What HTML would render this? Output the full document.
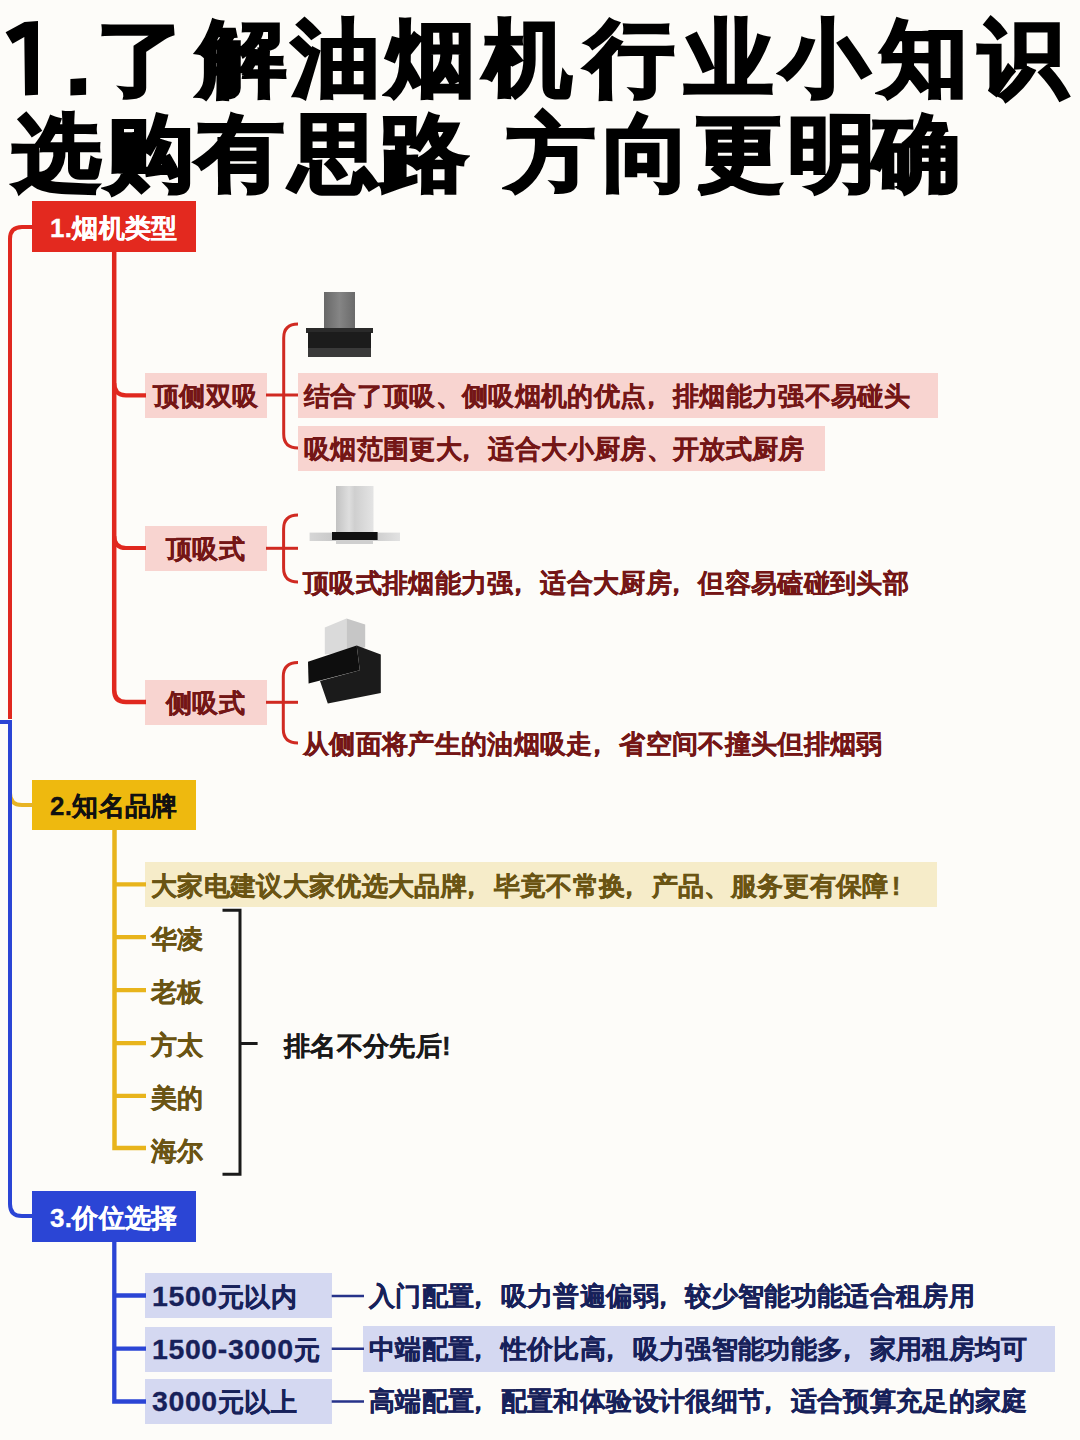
<!DOCTYPE html>
<html><head><meta charset="utf-8">
<style>
html,body{margin:0;padding:0;}
body{width:1080px;height:1440px;overflow:hidden;background:#fdfcf9;position:relative;font-family:"Liberation Sans",sans-serif;}
.t{position:absolute;white-space:nowrap;font-weight:700;}
.g{position:absolute;font-size:83px;line-height:100px;font-weight:700;color:#000;text-align:center;-webkit-text-stroke:3.2px #000;transform:scaleX(1.06);}
.box{position:absolute;}
.s26{font-size:26px;line-height:40px;letter-spacing:0.35px;-webkit-text-stroke:0.3px currentColor;}
svg{position:absolute;left:0;top:0;}
.cm{font-style:normal;position:relative;left:-9px;}
.ex{font-style:normal;margin-left:3px;}
.dg{font-size:28.5px;letter-spacing:0.6px;}
</style></head>
<body>
<!-- title line 1 -->
<div class="g" style="left:98px;top:10px;width:86px;">了</div>
<div class="g" style="left:197px;top:9px;width:90px;">解</div>
<div class="g" style="left:292px;top:9px;width:88px;">油</div>
<div class="g" style="left:387px;top:9px;width:88px;">烟</div>
<div class="g" style="left:480px;top:9px;width:95px;">机</div>
<div class="g" style="left:585px;top:9px;width:90px;">行</div>
<div class="g" style="left:685px;top:9px;width:88px;">业</div>
<div class="g" style="left:783px;top:9px;width:80px;">小</div>
<div class="g" style="left:878px;top:9px;width:92px;">知</div>
<div class="g" style="left:978px;top:9px;width:90px;">识</div>
<!-- title line 2 -->
<div class="g" style="left:14px;top:104px;width:86px;">选</div>
<div class="g" style="left:107px;top:104px;width:85px;">购</div>
<div class="g" style="left:197px;top:104px;width:85px;">有</div>
<div class="g" style="left:292px;top:104px;width:80px;">思</div>
<div class="g" style="left:380px;top:104px;width:87px;">路</div>
<div class="g" style="left:507px;top:104px;width:88px;">方</div>
<div class="g" style="left:605px;top:104px;width:80px;">向</div>
<div class="g" style="left:695px;top:104px;width:88px;">更</div>
<div class="g" style="left:790px;top:104px;width:80px;">明</div>
<div class="g" style="left:873px;top:104px;width:86px;">确</div>

<!-- boxes -->
<div class="box" style="left:32px;top:201px;width:164px;height:51px;background:#e3291f;"></div>
<div class="box" style="left:145px;top:372.5px;width:121.5px;height:45px;background:#f8d4d0;"></div>
<div class="box" style="left:298px;top:373px;width:640px;height:44.5px;background:#f8d4d0;"></div>
<div class="box" style="left:298px;top:426px;width:527px;height:44.5px;background:#f8d4d0;"></div>
<div class="box" style="left:145px;top:526px;width:121.5px;height:45px;background:#f8d4d0;"></div>
<div class="box" style="left:145px;top:680px;width:121.5px;height:44.5px;background:#f8d4d0;"></div>
<div class="box" style="left:32px;top:780px;width:164px;height:50px;background:#eeb90f;"></div>
<div class="box" style="left:145px;top:862px;width:791.5px;height:45px;background:#f6ecc9;"></div>
<div class="box" style="left:32px;top:1191px;width:164px;height:51px;background:#2b45d5;"></div>
<div class="box" style="left:144.6px;top:1273.3px;width:187px;height:45px;background:#d4d8f1;"></div>
<div class="box" style="left:144.6px;top:1326.5px;width:187px;height:45px;background:#d4d8f1;"></div>
<div class="box" style="left:144.6px;top:1379px;width:187px;height:45px;background:#d4d8f1;"></div>
<div class="box" style="left:363px;top:1326px;width:692px;height:46px;background:#d4d8f1;"></div>

<svg width="1080" height="1440" viewBox="0 0 1080 1440">
  <g fill="none" stroke-linecap="butt">
    <!-- red -->
    <path d="M10,719 V239 Q10,227 22,227 H33" stroke="#e0281f" stroke-width="4"/>
    <path d="M114.2,252 V690 Q114.2,702 126,702 H146" stroke="#e0281f" stroke-width="4.5"/>
    <path d="M114.2,383 Q114.2,395.3 126,395.3 H146" stroke="#e0281f" stroke-width="4.2"/>
    <path d="M114.2,536 Q114.2,548 126,548 H146" stroke="#e0281f" stroke-width="4.2"/>
    <path d="M298,324 Q283.7,324 283.7,338 V434 Q283.7,448 298,448" stroke="#d02a22" stroke-width="3"/>
    <path d="M266,395 H298" stroke="#d02a22" stroke-width="3"/>
    <path d="M298,515 Q283.6,515 283.6,529 V568 Q283.6,582 298,582" stroke="#d02a22" stroke-width="3"/>
    <path d="M266,548.3 H298" stroke="#d02a22" stroke-width="3"/>
    <path d="M298,662.6 Q283.3,662.6 283.3,676.6 V729 Q283.3,743 298,743" stroke="#d02a22" stroke-width="3"/>
    <path d="M266,702.3 H298" stroke="#d02a22" stroke-width="3"/>
    <!-- yellow -->
    <path d="M10,793 Q10,805 22,805 H33" stroke="#e8b425" stroke-width="4"/>
    <path d="M114.5,830 V1148.1 H146" stroke="#e8b41c" stroke-width="4.5"/>
    <path d="M114.5,884.4 H146 M114.5,937.2 H146 M114.5,990.2 H146 M114.5,1043.1 H146 M114.5,1095.9 H146" stroke="#e8b41c" stroke-width="4.2"/>
    <!-- black bracket -->
    <path d="M222.5,910.3 H240 V1174.3 H222.5 M240,1043.6 H257.6" stroke="#1a1a1a" stroke-width="3"/>
    <!-- blue -->
    <path d="M0,722 H10 V1204 Q10,1216 22,1216 H33" stroke="#2b45d5" stroke-width="4"/>
    <path d="M114.3,1242 V1401.5 H146 M114.3,1295.5 H146 M114.3,1348.7 H146" stroke="#2b45d5" stroke-width="4.3"/>
    <path d="M331.7,1296 H364 M331.7,1348.7 H364 M331.7,1401.5 H364" stroke="#27338a" stroke-width="2.5"/>
  </g>
  <polygon points="5.6,32.2 24.5,22 38,21.1 38,94.7 25,95.6 24.3,36.9 12.5,43.8" fill="#000"/>
  <polygon points="70.4,79 86.1,78 86.1,94.7 70.4,95.6" fill="#000"/>
  <!-- hood 1 -->
  <defs>
    <linearGradient id="h1c" x1="0" x2="1" y1="0" y2="0"><stop offset="0" stop-color="#686868"/><stop offset="0.5" stop-color="#858585"/><stop offset="1" stop-color="#6a6a6a"/></linearGradient>
    <linearGradient id="h2c" x1="0" x2="1" y1="0" y2="0"><stop offset="0" stop-color="#c2c2c2"/><stop offset="0.35" stop-color="#dedede"/><stop offset="0.5" stop-color="#cfcfcf"/><stop offset="1" stop-color="#e4e4e4"/></linearGradient>
    <linearGradient id="h2w" x1="0" x2="1" y1="0" y2="0"><stop offset="0" stop-color="#d6d6d6"/><stop offset="0.5" stop-color="#bdbdbd"/><stop offset="1" stop-color="#e2e2e2"/></linearGradient>
  </defs>
  <rect x="324" y="292" width="31" height="36" fill="url(#h1c)"/>
  <rect x="306" y="328" width="67" height="5" fill="#2a2a2a"/>
  <rect x="308" y="332" width="63" height="16" fill="#1c1c1c"/>
  <rect x="308" y="348" width="63" height="9" fill="#3a3a3a"/>
  <!-- hood 2 -->
  <rect x="336" y="486" width="37.5" height="46" fill="url(#h2c)"/>
  <rect x="309.6" y="532.6" width="90.4" height="8.4" fill="url(#h2w)"/>
  <rect x="332" y="532" width="45.6" height="8" fill="#111"/>
  <rect x="336" y="540" width="37" height="4" fill="#cfcfcf"/>
  <!-- hood 3 -->
  <polygon points="324.8,627.5 346.5,618.4 346.5,652 324.8,654.6" fill="#dadada"/>
  <polygon points="346.5,618.4 365.2,624.5 365.2,647.3 346.5,652" fill="#c6c6c6"/>
  <polygon points="356.7,645.5 380.8,654.6 380.8,693 327.8,703.4 320,681 359.8,670.2" fill="#1b1b1b"/>
  <polygon points="308,661.8 356.7,645.5 359.8,670.2 308.6,683.5" fill="#0e0e0e"/>
</svg>

<!-- node texts -->
<div class="t s26" style="left:50px;top:208px;color:#fff;">1.烟机类型</div>
<div class="t s26" style="left:153px;top:376px;color:#741616;">顶侧双吸</div>
<div class="t s26" style="left:304px;top:376px;color:#741616;">结合了顶吸、侧吸烟机的优点<i class="cm">，</i>排烟能力强不易碰头</div>
<div class="t s26" style="left:304px;top:429px;color:#741616;">吸烟范围更大<i class="cm">，</i>适合大小厨房、开放式厨房</div>
<div class="t s26" style="left:166px;top:529px;color:#741616;">顶吸式</div>
<div class="t s26" style="left:303px;top:563px;color:#741616;">顶吸式排烟能力强<i class="cm">，</i>适合大厨房<i class="cm">，</i>但容易磕碰到头部</div>
<div class="t s26" style="left:166px;top:683px;color:#741616;">侧吸式</div>
<div class="t s26" style="left:303px;top:724px;color:#741616;">从侧面将产生的油烟吸走<i class="cm">，</i>省空间不撞头但排烟弱</div>
<div class="t s26" style="left:50px;top:786px;color:#111;">2.知名品牌</div>
<div class="t s26" style="left:151px;top:866px;color:#6a5413;">大家电建议大家优选大品牌<i class="cm">，</i>毕竟不常换<i class="cm">，</i>产品、服务更有保障<i class="ex">!</i></div>
<div class="t s26" style="left:151px;top:919px;color:#6a5413;">华凌</div>
<div class="t s26" style="left:151px;top:972px;color:#6a5413;">老板</div>
<div class="t s26" style="left:151px;top:1025px;color:#6a5413;">方太</div>
<div class="t s26" style="left:151px;top:1077.5px;color:#6a5413;">美的</div>
<div class="t s26" style="left:151px;top:1130.5px;color:#6a5413;">海尔</div>
<div class="t s26" style="left:284px;top:1026px;color:#1a1a1a;">排名不分先后!</div>
<div class="t s26" style="left:50px;top:1198px;color:#fff;">3.价位选择</div>
<div class="t s26" style="left:152px;top:1276px;color:#17215a;"><span class="dg">1500</span>元以内</div>
<div class="t s26" style="left:152px;top:1329px;color:#17215a;"><span class="dg">1500-3000</span>元</div>
<div class="t s26" style="left:152px;top:1381px;color:#17215a;"><span class="dg">3000</span>元以上</div>
<div class="t s26" style="left:369px;top:1276px;color:#17215a;">入门配置<i class="cm">，</i>吸力普遍偏弱<i class="cm">，</i>较少智能功能适合租房用</div>
<div class="t s26" style="left:369px;top:1329px;color:#17215a;">中端配置<i class="cm">，</i>性价比高<i class="cm">，</i>吸力强智能功能多<i class="cm">，</i>家用租房均可</div>
<div class="t s26" style="left:369px;top:1381px;color:#17215a;">高端配置<i class="cm">，</i>配置和体验设计很细节<i class="cm">，</i>适合预算充足的家庭</div>
</body></html>
